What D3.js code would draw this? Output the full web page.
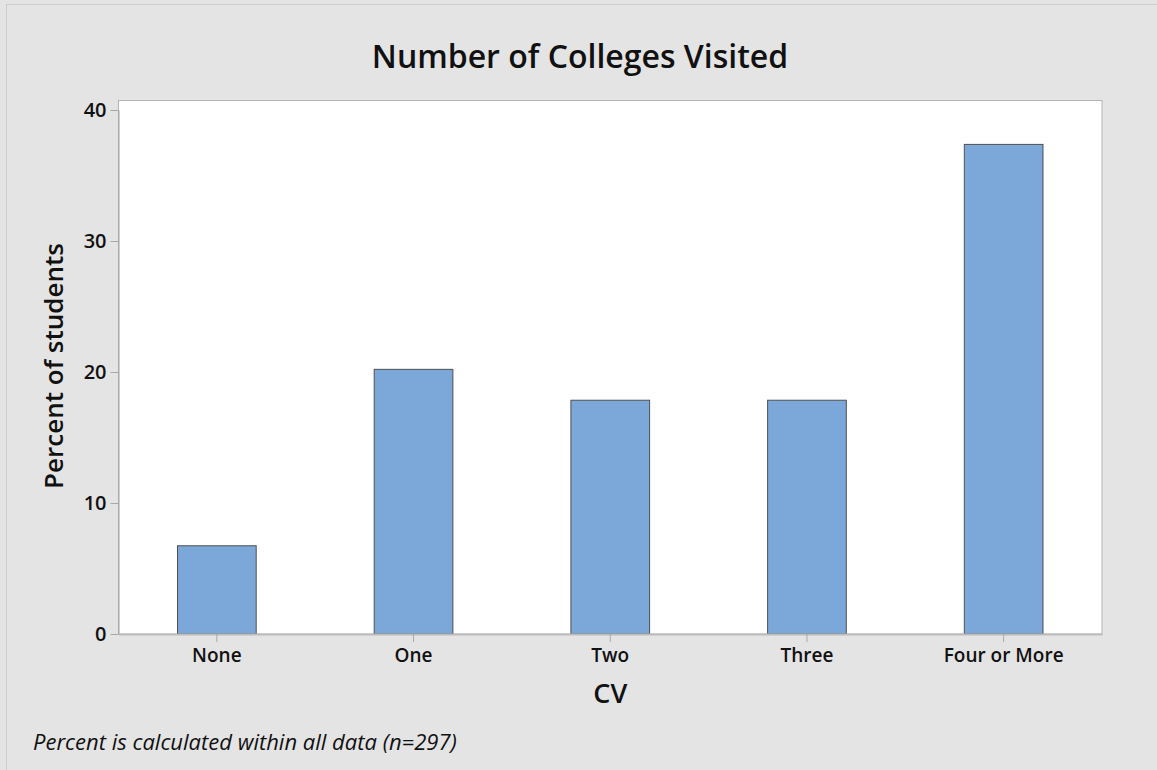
<!DOCTYPE html>
<html>
<head>
<meta charset="utf-8">
<script src="https://cdn.jsdelivr.net/npm/d3@7"></script>
<style>
  body { margin: 0; background: #e4e4e4; }
  svg { display: block; }
  text { font-family: "Open Sans", "Noto Sans", sans-serif; fill: #111; }
</style>
</head>
<body>
<svg></svg>
<script>
const categories = ['None', 'One', 'Two', 'Three', 'Four or More'];
const counts = [20, 60, 53, 53, 111];
const n_total = 297;
const percents = counts.map(c => c / n_total * 100);
const y_ticks = [0, 10, 20, 30, 40];

const WIDTH = 1157,
      HEIGHT = 770,
      PLOT = { left: 118.5, top: 100.5, right: 1102, bottom: 634 };

let svg = d3.select('svg')
   .attr('width', WIDTH)
   .attr('height', HEIGHT);

// outer frame (only left/top edges show in the picture)
svg.append('rect')
   .attr('x', 6.5).attr('y', 4.5)
   .attr('width', WIDTH + 20).attr('height', HEIGHT + 20)
   .attr('fill', '#e4e4e4')
   .attr('stroke', '#cdcdcd');

const x = d3.scaleBand()
   .domain(categories)
   .range([PLOT.left, PLOT.right])
   .padding(0);

const y = d3.scaleLinear()
   .domain([0, 40])
   .range([PLOT.bottom, 110]);

// plot area
svg.append('rect')
   .attr('x', PLOT.left).attr('y', PLOT.top)
   .attr('width', PLOT.right - PLOT.left)
   .attr('height', PLOT.bottom - PLOT.top)
   .attr('fill', '#fff')
   .attr('stroke', '#b4b4b4');

const barW = x.bandwidth() * 0.4;

svg.append('g')
   .selectAll('rect')
   .data(categories)
   .join('rect')
   .attr('x', d => x(d) + x.bandwidth() / 2 - barW / 2)
   .attr('y', (d, i) => y(percents[i]))
   .attr('width', barW)
   .attr('height', (d, i) => y(0) - y(percents[i]))
   .attr('fill', '#7ba7d9')
   .attr('stroke', '#505050')
   .attr('stroke-width', 1);

// y axis
let yAxis = svg.append('g')
   .attr('transform', 'translate(' + PLOT.left + ',0)')
   .call(d3.axisLeft(y).tickValues(y_ticks).tickSize(8).tickSizeOuter(0).tickPadding(4));
yAxis.select('.domain').attr('stroke', '#a0a0a0');
yAxis.selectAll('.tick line').attr('stroke', '#a8a8a8');
yAxis.selectAll('.tick text')
   .attr('font-size', 20)
   .attr('font-weight', 600)
   .attr('fill', '#111')
   .style('font-family', '"Open Sans", sans-serif');

// x axis
let xAxis = svg.append('g')
   .attr('transform', 'translate(0,' + PLOT.bottom + ')')
   .call(d3.axisBottom(x).tickSize(8).tickSizeOuter(0).tickPadding(7));
xAxis.select('.domain').attr('stroke', '#bcbcbc').attr('stroke-width', 2);
xAxis.selectAll('.tick line').attr('stroke', '#a8a8a8');
xAxis.selectAll('.tick text')
   .attr('font-size', 19)
   .attr('font-weight', 600)
   .attr('fill', '#111')
   .style('font-family', '"Open Sans", sans-serif');

// titles
svg.append('text')
   .attr('x', 580)
   .attr('y', 68)
   .attr('text-anchor', 'middle')
   .attr('font-size', 32)
   .attr('font-weight', 600)
   .text('Number of Colleges Visited');

svg.append('text')
   .attr('x', (PLOT.left + PLOT.right) / 2)
   .attr('y', 703)
   .attr('text-anchor', 'middle')
   .attr('font-size', 27)
   .attr('font-weight', 600)
   .text('CV');

svg.append('text')
   .attr('transform', 'translate(63,366) rotate(-90)')
   .attr('text-anchor', 'middle')
   .attr('font-size', 26)
   .attr('font-weight', 600)
   .text('Percent of students');

svg.append('text')
   .attr('x', 33)
   .attr('y', 750)
   .attr('font-size', 22)
   .attr('font-style', 'italic')
   .text('Percent is calculated within all data (n=' + n_total + ')');
</script>
</body>
</html>
